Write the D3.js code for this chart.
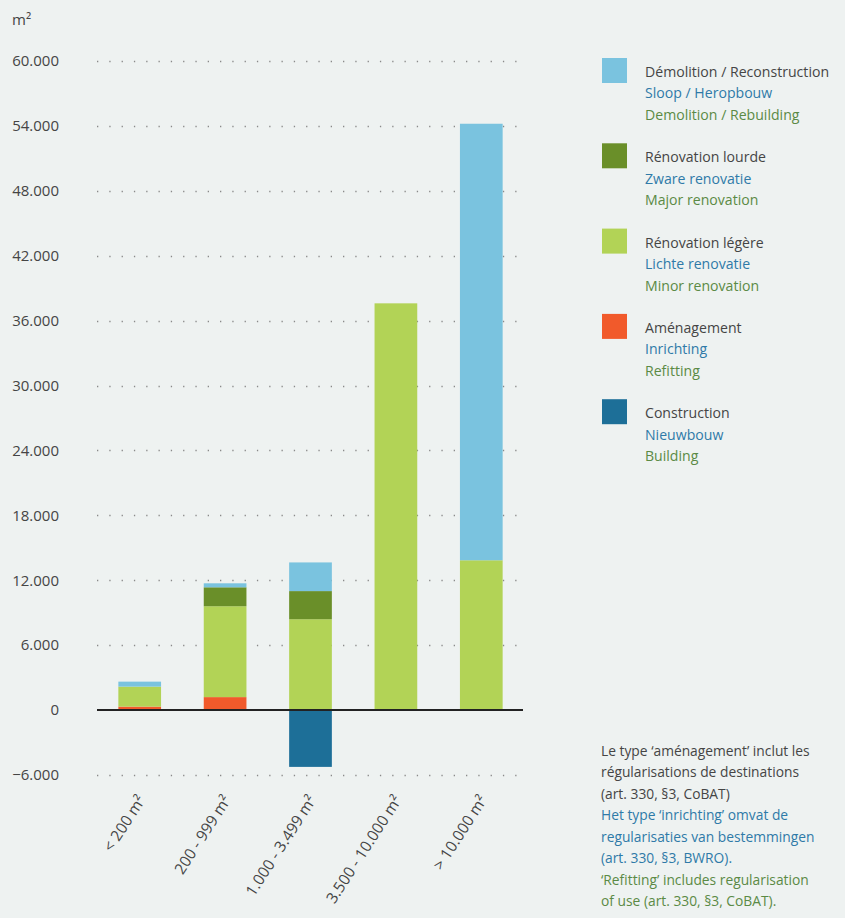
<!DOCTYPE html>
<html>
<head>
<meta charset="utf-8">
<script src="https://cdn.jsdelivr.net/npm/d3@7/dist/d3.min.js"></script>
<style>
  html, body { margin: 0; padding: 0; background: #eef2f1; }
  svg { display: block; }
  text { font-family: "Open Sans", "Noto Sans", sans-serif; }
</style>
</head>
<body>
<svg id="chart" width="845" height="918"></svg>
<script>
// Surface by permit size class (m²), split by type of works
const categories = ["< 200 m²", "200 - 999 m²", "1.000 - 3.499 m²", "3.500 - 10.000 m²", "> 10.000 m²"];
const construction = [0, 0, -5250, 0, 0];
const amenagement  = [320, 1200, 0, 0, 0];
const renoLegere   = [1850, 8400, 8400, 37600, 13850];
const renoLourde   = [0, 1750, 2600, 0, 0];
const demolition   = [460, 370, 2650, 0, 40350];
const yTicks = [-6000, 0, 6000, 12000, 18000, 24000, 30000, 36000, 42000, 48000, 54000, 60000];

const seriesKeys = ["construction", "amenagement", "renoLegere", "renoLourde", "demolition"];
const colors = {
  construction: "#1d6f98",
  amenagement: "#f15a2b",
  renoLegere: "#b2d356",
  renoLourde: "#6a8f29",
  demolition: "#7ac3df"
};
const legendItems = [
  { key: "demolition",   fr: "Démolition / Reconstruction", nl: "Sloop / Heropbouw",   en: "Demolition / Rebuilding" },
  { key: "renoLourde",   fr: "Rénovation lourde",           nl: "Zware renovatie",      en: "Major renovation" },
  { key: "renoLegere",   fr: "Rénovation légère",           nl: "Lichte renovatie",     en: "Minor renovation" },
  { key: "amenagement",  fr: "Aménagement",                 nl: "Inrichting",           en: "Refitting" },
  { key: "construction", fr: "Construction",                nl: "Nieuwbouw",            en: "Building" }
];
const noteLines = [
  { t: "Le type ‘aménagement’ inclut les", c: "fr" },
  { t: "régularisations de destinations", c: "fr" },
  { t: "(art. 330, §3, CoBAT)", c: "fr" },
  { t: "Het type ‘inrichting’ omvat de", c: "nl" },
  { t: "regularisaties van bestemmingen", c: "nl" },
  { t: "(art. 330, §3, BWRO).", c: "nl" },
  { t: "‘Refitting’ includes regularisation", c: "en" },
  { t: "of use (art. 330, §3, CoBAT).", c: "en" }
];
const textColors = { fr: "#454545", nl: "#2f7aa8", en: "#5b8a45" };

const rows = categories.map((c, i) => ({
  cat: c,
  construction: construction[i],
  amenagement: amenagement[i],
  renoLegere: renoLegere[i],
  renoLourde: renoLourde[i],
  demolition: demolition[i]
}));

const svg = d3.select("#chart");
const fmt = d3.formatLocale({ decimal: ",", thousands: ".", grouping: [3], currency: ["", ""] }).format(",d");

const x = d3.scaleBand().domain(categories).range([97, 524]).paddingInner(0.5).paddingOuter(0.25);
const y = d3.scaleLinear().domain([-6000, 60000]).range([775, 61]);

// dotted gridlines
svg.append("g")
  .selectAll("line")
  .data(yTicks.filter(v => v !== 0))
  .join("line")
  .attr("x1", 97).attr("x2", 526)
  .attr("y1", d => Math.round(y(d)) + 0.5).attr("y2", d => Math.round(y(d)) + 0.5)
  .attr("stroke", "#8a8a8a")
  .attr("stroke-width", 1.3)
  .attr("stroke-dasharray", "1.3 11");

// y axis labels
const yAxis = d3.axisLeft(y).tickValues(yTicks).tickFormat(d => d === 0 ? "0" : fmt(d)).tickSize(0).tickPadding(0);
const yg = svg.append("g").attr("transform", "translate(59,0)").call(yAxis);
yg.select(".domain").remove();
yg.selectAll("text")
  .attr("font-size", 15)
  .attr("fill", "#454545")
  .attr("font-family", "\"Open Sans\", sans-serif")
  .attr("dy", "0.32em");

svg.append("text")
  .attr("x", 12).attr("y", 25)
  .attr("font-size", 15).attr("fill", "#454545")
  .text("m²");

// stacked bars
const stack = d3.stack().keys(seriesKeys).offset(d3.stackOffsetDiverging);
const stacked = stack(rows);

svg.append("g")
  .selectAll("g")
  .data(stacked)
  .join("g")
  .attr("fill", d => colors[d.key])
  .selectAll("rect")
  .data(d => d)
  .join("rect")
  .attr("x", d => x(d.data.cat))
  .attr("width", x.bandwidth())
  .attr("y", d => y(Math.max(d[0], d[1])))
  .attr("height", d => Math.abs(y(d[0]) - y(d[1])));

// zero baseline
svg.append("line")
  .attr("x1", 97).attr("x2", 523)
  .attr("y1", y(0)).attr("y2", y(0))
  .attr("stroke", "#222")
  .attr("stroke-width", 2);

// rotated category labels
const xAxis = d3.axisBottom(x).tickSize(0).tickPadding(0);
const xg = svg.append("g").attr("transform", "translate(2,797)").call(xAxis);
xg.select(".domain").remove();
xg.selectAll("text")
  .attr("font-size", 15.5)
  .attr("fill", "#454545")
  .attr("font-family", "\"Open Sans\", sans-serif")
  .attr("text-anchor", "end")
  .attr("dy", "0.35em")
  .attr("transform", "rotate(-57)");

// legend
const lg = svg.append("g").selectAll("g")
  .data(legendItems)
  .join("g")
  .attr("transform", (d, i) => `translate(602,${58 + i * 85.3})`);
lg.append("rect").attr("width", 25).attr("height", 25).attr("fill", d => colors[d.key]);
["fr", "nl", "en"].forEach((lang, j) => {
  lg.append("text")
    .attr("x", 43).attr("y", 14 + j * 21.5)
    .attr("dy", "0.35em")
    .attr("font-size", 14.1)
    .attr("fill", textColors[lang])
    .text(d => d[lang]);
});

// footnote
svg.append("g").selectAll("text")
  .data(noteLines)
  .join("text")
  .attr("x", 601)
  .attr("y", (d, i) => 751 + i * 21.5)
  .attr("dy", "0.35em")
  .attr("font-size", 13.8)
  .attr("fill", d => textColors[d.c])
  .text(d => d.t);
</script>
</body>
</html>
